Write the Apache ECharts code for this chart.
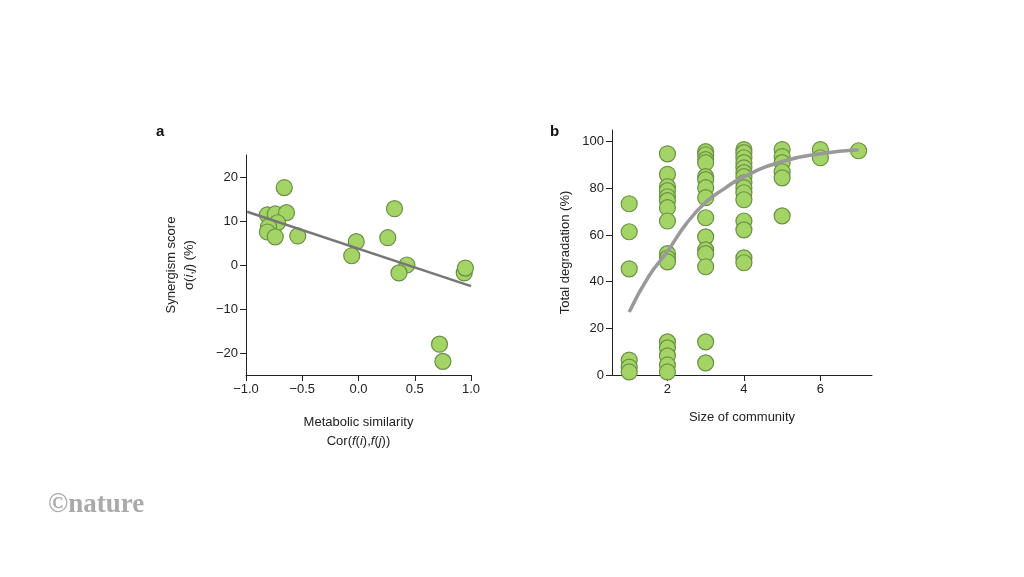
<!DOCTYPE html><html><head><meta charset="utf-8">
<script src="https://cdn.jsdelivr.net/npm/echarts@6/dist/echarts.min.js"></script>
<style>body{margin:0;background:#fff}#c{width:1024px;height:577px}</style></head><body><div id="c"></div>
<script>
const aX=[-0.66,-0.81,-0.74,-0.64,-0.72,-0.80,-0.81,-0.74,-0.54,-0.02,-0.06,0.26,0.32,0.43,0.36,0.94,0.95,1.01,1.01,0.72,0.75];
const aY=[17.6,11.4,11.6,11.9,9.6,8.7,7.5,6.4,6.6,5.3,2.1,6.2,12.8,0,-1.8,-1.8,-0.7,0.7,-0.7,-18,-21.9];
const aFitX=[-0.99,1.0];
const aFitY=[12.1,-4.8];
const bCol1=[73.4,61.4,45.5,6.4,3.4,1.3];
const bCol2=[94.8,86,80.7,79,76.4,74.7,71.7,66,52,50,48.5,14.2,11.6,8.2,4.3,1.3];
const bCol3=[95.7,94.4,92.3,91,85,83.7,80.3,76,67.4,59.2,53.6,52,46.4,14.2,5.2];
const bCol4=[96.6,95.3,93.1,91,88.8,86.7,85,82.4,80.3,78.1,75.1,66,62.2,50.2,48.1];
const bCol5=[96.6,93.6,91,87.1,84.5,68.2];
const bCol6=[96.6,93.1];
const bCol7=[96.1];
const bFitX=[1,1.5,2,2.5,3,3.5,4,5,6,7];
const bFitY=[27,42,53,65,74,80,85,91.5,94.8,96.5];
const aTicksX=[-1,-0.5,0,0.5,1];
const aTicksY=[-20,-10,0,10,20];
const bTicksX=[2,4,6];
const bTicksY=[0,20,40,60,80,100];

const bPts=[];[bCol1,bCol2,bCol3,bCol4,bCol5,bCol6,bCol7].forEach((c,i)=>c.forEach(v=>bPts.push([i+1,v])));
const font='Liberation Sans';
const axLine={onZero:false,lineStyle:{color:'#222',width:1}};
const dot={symbolSize:16,itemStyle:{color:'#a3d465',borderColor:'#6b8f45',borderWidth:1.2,opacity:1}};
const lab={color:'#222',fontSize:13,fontFamily:font};
const c=echarts.init(document.getElementById('c'));
c.setOption({animation:false,
textStyle:{fontFamily:font},
grid:[{left:246,right:553,top:155,bottom:202},{left:612,right:152,top:130,bottom:202}],
xAxis:[
{gridIndex:0,type:'value',min:-1,max:1,axisLine:axLine,splitLine:{show:false},
 axisTick:{customValues:aTicksX,length:6,lineStyle:{color:'#222'}},
 axisLabel:{...lab,customValues:aTicksX,formatter:v=>(v<0?'\u2212':'')+Math.abs(v).toFixed(1)},
 name:'Metabolic similarity\n{n|Cor(}{i|f}{n|(}{i|i}{n|),}{i|f}{n|(}{i|j}{n|))}',nameLocation:'middle',nameGap:38,
 nameTextStyle:{color:'#222',fontSize:13,lineHeight:19,rich:{n:{fontSize:13,color:'#222'},i:{fontSize:13,color:'#222',fontStyle:'italic'}}}},
{gridIndex:1,type:'value',min:0.55,max:7.35,axisLine:axLine,splitLine:{show:false},
 axisTick:{customValues:bTicksX,length:6,lineStyle:{color:'#222'}},
 axisLabel:{...lab,customValues:bTicksX},
 name:'Size of community',nameLocation:'middle',nameGap:36,nameTextStyle:{color:'#222',fontSize:13}}],
yAxis:[
{gridIndex:0,type:'value',min:-25,max:25,axisLine:{show:true,...axLine},splitLine:{show:false},
 axisTick:{show:true,customValues:aTicksY,length:6,lineStyle:{color:'#222'}},
 axisLabel:{...lab,customValues:aTicksY,formatter:v=>(v<0?'\u2212':'')+Math.abs(v)},
 name:'Synergism score\n{n|\u03C3(}{i|i},{i|j}{n|) (%)}',nameLocation:'middle',nameGap:48,
 nameTextStyle:{color:'#222',fontSize:13,lineHeight:18,rich:{n:{fontSize:13,color:'#222'},i:{fontSize:13,color:'#222',fontStyle:'italic'}}}},
{gridIndex:1,type:'value',min:0,max:105,axisLine:{show:true,...axLine},splitLine:{show:false},
 axisTick:{show:true,customValues:bTicksY,length:6,lineStyle:{color:'#222'}},
 axisLabel:{...lab,customValues:bTicksY},
 name:'Total degradation (%)',nameLocation:'middle',nameGap:40,nameTextStyle:{color:'#222',fontSize:13}}],
graphic:[
{type:'text',left:156,top:124,style:{text:'a',font:'bold 15px Liberation Sans',fill:'#111'}},
{type:'text',left:550,top:124,style:{text:'b',font:'bold 15px Liberation Sans',fill:'#111'}},
{type:'text',left:48,top:492,style:{text:'\u00A9nature',font:'bold 27px Liberation Serif',fill:'#aaa'}}],
series:[
{type:'scatter',xAxisIndex:0,yAxisIndex:0,data:aX.map((x,i)=>[x,aY[i]]),...dot,z:2},
{type:'line',xAxisIndex:0,yAxisIndex:0,data:aFitX.map((x,i)=>[x,aFitY[i]]),symbol:'none',lineStyle:{color:'#777',width:2.5},z:3},
{type:'scatter',xAxisIndex:1,yAxisIndex:1,data:bPts,...dot,z:2},
{type:'line',xAxisIndex:1,yAxisIndex:1,data:bFitX.map((x,i)=>[x,bFitY[i]]),smooth:true,symbol:'none',lineStyle:{color:'#999',width:3.5},z:3}]
});
</script></body></html>
